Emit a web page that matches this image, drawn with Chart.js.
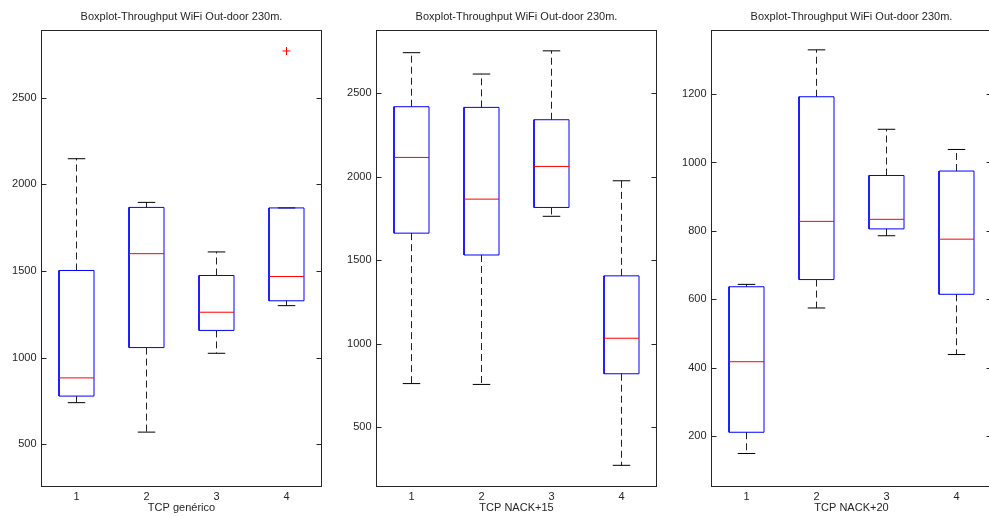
<!DOCTYPE html>
<html>
<head>
<meta charset="utf-8">
<script src="https://cdn.jsdelivr.net/npm/chart.js@4/dist/chart.umd.min.js"></script>
<style>
  html, body { margin: 0; padding: 0; background: #fff; overflow: hidden; width: 989px; height: 516px; }
  canvas { position: absolute; top: 0; }
</style>
</head>
<body>
<canvas id="c1" width="335" height="516" style="left:0px"></canvas>
<canvas id="c2" width="335" height="516" style="left:335px"></canvas>
<canvas id="c3" width="335" height="516" style="left:670px"></canvas>
<script>
// --- datos ---
const groups = ['1', '2', '3', '4'];
const chartTitle = 'Boxplot-Throughput WiFi Out-door 230m.';

// TCP genérico
const genLo  = [740, 570, 1025, 1300];
const genQ1  = [778, 1058, 1157, 1328];
const genMed = [883, 1600, 1262, 1468];
const genQ3  = [1503, 1867, 1474, 1864];
const genHi  = [2148, 1896, 1610, 1864];
const genOut = [[], [], [], [2770]];
const genTicks = [500, 1000, 1500, 2000, 2500];

// TCP NACK+15
const n15Lo  = [760, 755, 1763, 270];
const n15Q1  = [1662, 1531, 1816, 819];
const n15Med = [2116, 1866, 2062, 1032];
const n15Q3  = [2420, 2416, 2342, 1406];
const n15Hi  = [2744, 2616, 2755, 1976];
const n15Out = [[], [], [], []];
const n15Ticks = [500, 1000, 1500, 2000, 2500];

// TCP NACK+20
const n20Lo  = [150, 575, 786, 439];
const n20Q1  = [212, 658, 806, 615];
const n20Med = [418, 828, 834, 776];
const n20Q3  = [637, 1192, 962, 975];
const n20Hi  = [644, 1329, 1097, 1038];
const n20Out = [[], [], [], []];
const n20Ticks = [200, 400, 600, 800, 1000, 1200];

// --- estilo ---
const BOX_HALF = 0.25;
const CAP_HALF = 0.125;
const TEXT = '#262626';

Chart.defaults.font.family = '"Liberation Sans", Arial, sans-serif';
Chart.defaults.font.size = 11;
Chart.defaults.color = TEXT;
Chart.defaults.animation = false;

// marco del eje + marcas hacia dentro (estilo matlab)
const framePlugin = {
    id: 'frame',
    afterDraw(chart) {
        const { ctx, chartArea: a, scales: { y } } = chart;
        ctx.save();
        ctx.strokeStyle = TEXT;
        ctx.lineWidth = 1;
        ctx.strokeRect(Math.floor(a.left) + 0.5, Math.round(a.top) + 0.5,
            Math.round(a.right - a.left), Math.round(a.bottom - a.top));
        y.ticks.forEach(t => {
            const py = Math.round(y.getPixelForValue(t.value)) + 0.5;
            ctx.beginPath();
            ctx.moveTo(a.left, py); ctx.lineTo(a.left + 5, py);
            ctx.moveTo(a.right, py); ctx.lineTo(a.right - 5, py);
            ctx.stroke();
        });
        ctx.restore();
    }
};

function seg(x1, y1, x2, y2) {
    return [{ x: x1, y: y1 }, { x: x2, y: y2 }, { x: x2, y: null }];
}

function makeDatasets(lo, q1, med, q3, hi, out) {
    const boxes = [], medians = [], whiskers = [], caps = [], outliers = [];
    groups.forEach((g, i) => {
        const c = i + 1, l = c - BOX_HALF, r = c + BOX_HALF;
        boxes.push({ x: l, y: q1[i] }, { x: r, y: q1[i] }, { x: r, y: q3[i] },
                   { x: l, y: q3[i] }, { x: l, y: q1[i] }, { x: c, y: null });
        medians.push(...seg(l, med[i], r, med[i]));
        whiskers.push(...seg(c, q3[i], c, hi[i]), ...seg(c, q1[i], c, lo[i]));
        caps.push(...seg(c - CAP_HALF, hi[i], c + CAP_HALF, hi[i]),
                  ...seg(c - CAP_HALF, lo[i], c + CAP_HALF, lo[i]));
        out[i].forEach(v => outliers.push({ x: c, y: v }));
    });
    const line = { showLine: true, spanGaps: false, pointRadius: 0, borderWidth: 1, tension: 0 };
    return [
        { ...line, data: whiskers, borderColor: '#222', borderDash: [7, 4], order: 4 },
        { ...line, data: caps, borderColor: '#000', order: 3 },
        { ...line, data: boxes, borderColor: '#0000ff', order: 2 },
        { ...line, data: medians, borderColor: '#ff0000', order: 1 },
        { data: outliers, showLine: false, pointStyle: 'cross', pointRadius: 4,
          borderColor: '#ff0000', borderWidth: 1, order: 0 }
    ];
}

function boxplot(id, xTitle, yMin, yMax, yTicks, series) {
    new Chart(document.getElementById(id), {
        type: 'scatter',
        data: { datasets: makeDatasets(...series) },
        options: {
            responsive: false,
            devicePixelRatio: 1,
            layout: { padding: { left: 0, right: 13.5, top: 0, bottom: 0 } },
            plugins: { legend: { display: false }, tooltip: { enabled: false } },
            scales: {
                x: {
                    type: 'linear', position: 'bottom', min: 0.5, max: 4.5,
                    afterBuildTicks: s => { s.ticks = groups.map((g, i) => ({ value: i + 1 })); },
                    afterFit: s => { s.height = 30; },
                    grid: { display: false, drawTicks: false },
                    border: { display: false },
                    ticks: { padding: 4, callback: v => groups[v - 1] },
                    title: { display: true, text: xTitle, padding: { top: 0, bottom: 1 } }
                },
                top: {
                    type: 'linear', position: 'top', min: 0, max: 1,
                    afterFit: s => { s.height = 30; },
                    grid: { display: false, drawTicks: false },
                    border: { display: false },
                    ticks: { display: false },
                    title: { display: true, text: chartTitle, padding: { top: 10, bottom: 0 } }
                },
                y: {
                    min: yMin, max: yMax,
                    afterBuildTicks: s => { s.ticks = yTicks.map(v => ({ value: v })); },
                    afterFit: s => { s.width = 41.5; },
                    grid: { display: false, drawTicks: false },
                    border: { display: false },
                    ticks: { padding: 5, callback: v => String(v) }
                }
            }
        },
        plugins: [framePlugin]
    });
}

boxplot('c1', 'TCP genérico', 259, 2891, genTicks, [genLo, genQ1, genMed, genQ3, genHi, genOut]);
boxplot('c2', 'TCP NACK+15', 146, 2880, n15Ticks, [n15Lo, n15Q1, n15Med, n15Q3, n15Hi, n15Out]);
boxplot('c3', 'TCP NACK+20', 55, 1387, n20Ticks, [n20Lo, n20Q1, n20Med, n20Q3, n20Hi, n20Out]);
</script>
</body>
</html>
